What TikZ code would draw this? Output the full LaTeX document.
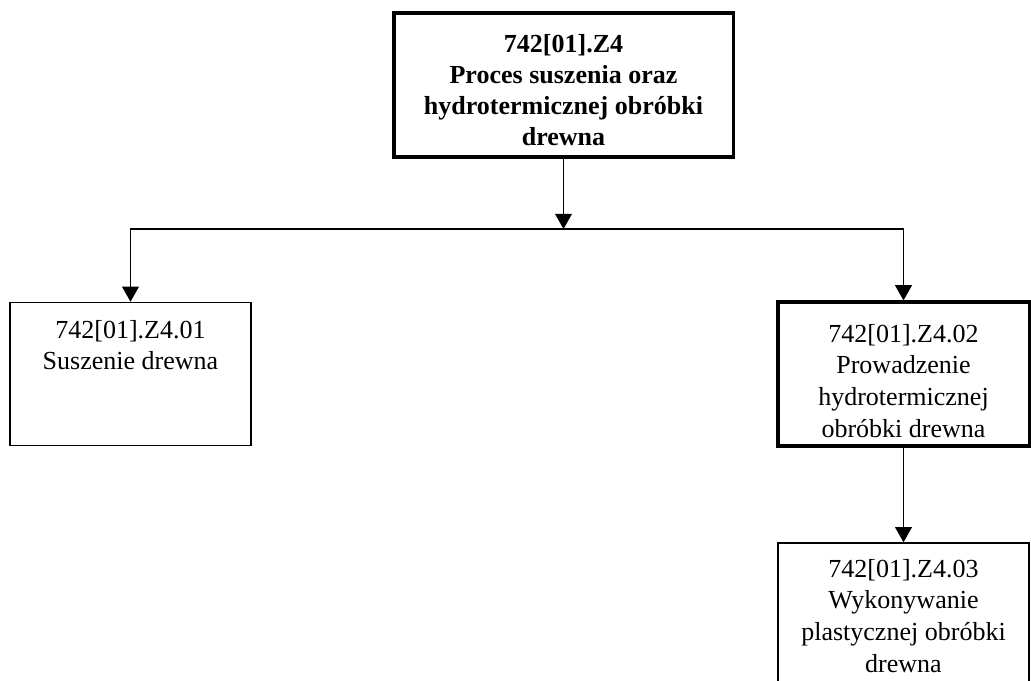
\documentclass[tikz,border=0pt]{standalone}
\usepackage{fontspec}
\setmainfont{Liberation Serif}
\usetikzlibrary{arrows.meta, positioning, calc}
\definecolor{ink}{RGB}{0,0,0}

\tikzset{
  box/.style={draw=ink, line width=1pt, rectangle, inner sep=0pt},
  mainbox/.style={box, line width=2.2pt},
  boxtext/.style={anchor=north, inner sep=0pt, align=center, font=\fontsize{18.5}{22.5}\selectfont},
  link/.style={draw=ink, line width=1pt, -{Triangle[length=0.38cm, width=0.42cm]}}
}

\begin{document}
\begin{tikzpicture}[x=0.025cm, y=-0.025cm]
  \useasboundingbox (0,0) rectangle (1031,681);
  \clip (0,0) rectangle (1031,681);
  % Top unit
  \node[mainbox, minimum width=8.475cm, minimum height=3.6cm] (z4) at (563.5,85) {};
  \node[boxtext, font=\fontsize{18.5}{22}\selectfont\bfseries] (z4txt) at (563.5,34)
    {742[01].Z4\\Proces suszenia oraz\\hydrotermicznej obróbki\\drewna};
  % Left unit
  \node[box, minimum width=6.025cm, minimum height=3.575cm] (z401) at (130.5,374) {};
  \node[boxtext] (z401txt) at (130.5,320) {742[01].Z4.01\\Suszenie drewna};
  % Right unit
  \node[mainbox, minimum width=6.275cm, minimum height=3.6cm] (z402) at (903.5,374) {};
  \node[boxtext] (z402txt) at (903.5,324)
    {742[01].Z4.02\\Prowadzenie\\hydrotermicznej\\obróbki drewna};
  % Bottom unit (cut off by the page)
  \node[box, minimum width=6.275cm, minimum height=4cm] (z403) at (903.5,623) {};
  \node[boxtext] (z403txt) at (903.5,559)
    {742[01].Z4.03\\Wykonywanie\\plastycznej obróbki\\drewna};
  % Connectors
  \coordinate (split) at (563.5,229);
  \draw[link] (z4.south) -- (split);
  \draw[link] (split) -| (z401.north);
  \draw[link] (split) -| (z402.north);
  \draw[link] (z402.south) -- (z403.north);
\end{tikzpicture}
\end{document}
